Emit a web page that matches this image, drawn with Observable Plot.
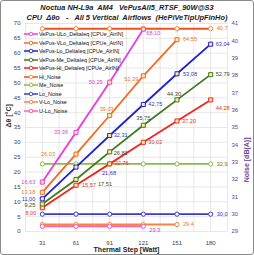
<!DOCTYPE html>
<html><head><meta charset="utf-8">
<script src="https://cdn.jsdelivr.net/npm/d3@7"></script>
<script src="https://cdn.jsdelivr.net/npm/@observablehq/plot@0.6"></script>
<style>
html,body{margin:0;padding:0;background:#fff;}
#wrap{position:relative;width:254px;height:255px;overflow:hidden;font-family:"Liberation Sans",Arial,sans-serif;}
#frame{position:absolute;left:0;top:0;width:254px;height:255px;box-sizing:border-box;border:1px solid #8a8a8a;border-radius:3px;pointer-events:none;}
.t{position:absolute;left:0;width:254px;text-align:center;font-weight:bold;font-style:italic;font-size:7.4px;color:#1a1a1a;white-space:pre;}
#legend{position:absolute;left:24px;top:30px;font-size:5.4px;color:#111;}
.row{height:8.5px;display:flex;align-items:center;white-space:nowrap;}
.row svg{flex:none;margin-right:1px;}
</style></head><body>
<div id="wrap">
<div id="chart"></div>
<div class="t" style="top:3px">Noctua NH-L9a  AM4   VePusAll5_RTSF_90W@S3</div>
<div class="t" style="top:13px">CPU  Δθo   -   All 5 Vertical  Airflows  (HePiVeTipUpFinHo)</div>
<div id="legend"></div>
<div id="frame"></div>
</div>
<script>
// ---- data ----
const steps = [31, 61, 91, 121, 151, 180];
const uLo = [16.63, 33.36, 50.25, 68.10];
const vLo = [13.18, 26.03, 39.03, 52.39, 64.55];
const lo = [11.00, 21.68, 32.31, 42.75, 53.08, 63.04];
const me = [9.25, 17.51, 26.81, 35.75, 44.30, 52.79];
const hi = [8.00, 15.57, 22.76, 30.02, 37.20, 44.28];
const hiNoise = [40.7, 40.7, 40.7, 40.7, 40.7, 40.7];
const meNoise = [32.9, 32.9, 32.9, 32.9, 32.9, 32.9];
const loNoise = [30.0, 30.0, 30.0, 30.0, 30.0, 30.0];
const vLoNoise = [29.4, 29.4, 29.4, 29.4, 29.4];
const uLoNoise = [29.3, 29.3, 29.3, 29.3];
const tempTicks = [0, 5, 10, 15, 20, 25, 30, 35, 40, 45, 50, 55, 60, 65, 70];
const noiseTicks = [29, 30, 31, 32, 33, 34, 35, 36, 37, 38, 39, 40, 41];
const names = ["VePus-ULo_DeltaIeq [CPUe_AirIN]", "VePus-VLo_DeltaIeq [CPUe_AirIN]", "VePus-Lo_DeltaIeq [CPUe_AirIN]",
  "VePus-Me_DeltaIeq [CPUe_AirIN]", "VePus-Hi_DeltaIeq [CPUe_AirIN]", "Hi_Noise", "Me_Noise", "Lo_Noise", "V-Lo_Noise", "U-Lo_Noise"];

// ---- styles (not data) ----
const noiseMin = noiseTicks[0], noiseMax = noiseTicks[noiseTicks.length - 1];
const tMax = tempTicks[tempTicks.length - 1];
const toT = n => (n - noiseMin) * tMax / (noiseMax - noiseMin);
const series = [
  {name: names[0], vals: uLo, kind: "t", color: "#EC3CE4", lab: "#E040D8",
   pos: [[-7,0,"end"],[-8,0,"end"],[-7,0,"end"],[3,4,"start"]]},
  {name: names[1], vals: vLo, kind: "t", color: "#F26B21", lab: "#E87A2B",
   pos: [[-7,0,"end"],[-21,0,"end"],[-3,-6,"middle"],[-5,3,"end"],[6,0,"start"]]},
  {name: names[2], vals: lo, kind: "t", color: "#1E22D0", lab: "#3434B8",
   pos: [[-7,0,"end"],[26,6,"start"],[4,0,"start"],[5,0,"start"],[6,0,"start"],[5,0,"start"]]},
  {name: names[3], vals: me, kind: "t", color: "#3E7B1E", lab: "#3B4A22",
   pos: [[-7,1,"end"],[22,5,"start"],[4,1,"start"],[0,-7,"middle"],[-3,-6,"middle"],[5,0,"start"]]},
  {name: names[4], vals: hi, kind: "t", color: "#F0261E", lab: "#D83A22",
   pos: [[-6,5,"end"],[6,0,"start"],[5,-1,"start"],[5,0,"start"],[5,0,"start"],[5,8,"start"]]},
  {name: names[5], vals: hiNoise, kind: "n", color: "#F0521E", lab: "#E8762B", mfill: "#fff", mstroke: "#F28A3A",
   pos: [null,null,null,null,null,[6,0,"start"]]},
  {name: names[6], vals: meNoise, kind: "n", color: "#8DB84A", lab: "#5A7A2A", mfill: "#fff", mstroke: "#8DB84A",
   pos: [null,null,null,null,null,[6,0,"start"]]},
  {name: names[7], vals: loNoise, kind: "n", color: "#3B3BC8", lab: "#3434B8", mfill: "#fff", mstroke: "#3B3BC8",
   pos: [null,null,null,null,null,[6,0,"start"]]},
  {name: names[8], vals: vLoNoise, kind: "n", color: "#F3843F", lab: "#E87A2B", mfill: "#fff", mstroke: "#F3843F",
   pos: [null,null,null,null,[6,0,"start"]]},
  {name: names[9], vals: uLoNoise, kind: "n", color: "#FF5FB0", lab: "#D040B0", mfill: "#fff", mstroke: "#F050B0",
   pos: [null,null,null,[6,4,"start"]]}
];

const fmt = (v, kind) => (kind === "t" ? v.toFixed(2) : v.toFixed(1)).replace(".", ",");

const marks = [
  Plot.ruleX(d3.range(-0.5, 5.51, 0.5), {stroke: "#dcdcdc", strokeWidth: 0.7}),
  Plot.ruleY(tempTicks, {stroke: "#dcdcdc", strokeWidth: 0.7}),
];
const order = [5,6,7,8,9,4,3,2,1,0];
for (const k of order) {
  const s = series[k];
  const rows = s.vals.map((v, i) => ({i, v, y: s.kind === "n" ? toT(v) : v}));
  marks.push(Plot.line(rows, {x: "i", y: "y", stroke: s.color, strokeWidth: s.kind === "n" ? 1.9 : 1.8}));
  if (s.kind === "t") {
    marks.push(Plot.dot(rows, {x: "i", y: "y", symbol: "square", r: 2.3, fill: "#FFE7A0", stroke: s.color, strokeWidth: 1}));
  } else {
    marks.push(Plot.dot(rows, {x: "i", y: "y", r: 2.1, fill: s.mfill, stroke: s.mstroke, strokeWidth: 1}));
  }
  rows.forEach((r, i) => {
    const p = s.pos[i];
    if (!p) return;
    marks.push(Plot.text([r], {x: "i", y: "y", text: d => fmt(d.v, s.kind), dx: p[0], dy: p[1], textAnchor: p[2],
      fill: s.lab, fontSize: 5.6}));
  });
}
marks.push(Plot.text(tempTicks, {y: d => d, frameAnchor: "left", dx: -5, textAnchor: "end", fill: "#404040", fontSize: 6}));
marks.push(Plot.text(noiseTicks, {y: d => toT(d), frameAnchor: "right", dx: 4, textAnchor: "start", fill: "#6A3AA0", fontSize: 6}));
marks.push(Plot.text(steps, {x: (d, i) => i, frameAnchor: "bottom", dy: 13, fill: "#404040", fontSize: 6}));
marks.push(Plot.text(["Thermal Step [Watt]"], {frameAnchor: "bottom", dy: 20, fill: "#222", fontSize: 7, fontWeight: "bold"}));
marks.push(Plot.text(["Δθ [°C]"], {frameAnchor: "left", dx: -17, rotate: -90, fill: "#333", fontSize: 7, fontWeight: "bold"}));
marks.push(Plot.text(["Noise [dB(A)]"], {frameAnchor: "right", dx: 19, dy: 10, rotate: -90, fill: "#6A3AA0", fontSize: 7, fontWeight: "bold"}));

const chart = Plot.plot({
  width: 254, height: 255,
  marginTop: 23, marginBottom: 24, marginLeft: 25, marginRight: 27,
  style: {fontFamily: "'Liberation Sans', Arial, sans-serif", overflow: "visible", background: "#fff"},
  x: {type: "linear", domain: [-0.5, 5.5], axis: null},
  y: {domain: [0, 70], axis: null},
  marks
});
document.getElementById("chart").appendChild(chart);

const lg = document.getElementById("legend");
series.forEach(s => {
  const row = document.createElement("div");
  row.className = "row";
  const mf = s.kind === "t" ? "#fff" : s.mfill;
  row.innerHTML = `<svg width="14" height="6"><line x1="0" y1="3" x2="14" y2="3" stroke="${s.color}" stroke-width="1.5"/><circle cx="7" cy="3" r="1.8" fill="${mf}" stroke="${s.mstroke || s.color}" stroke-width="0.9"/></svg><span>${s.name}</span>`;
  lg.appendChild(row);
});
</script>
</body></html>
